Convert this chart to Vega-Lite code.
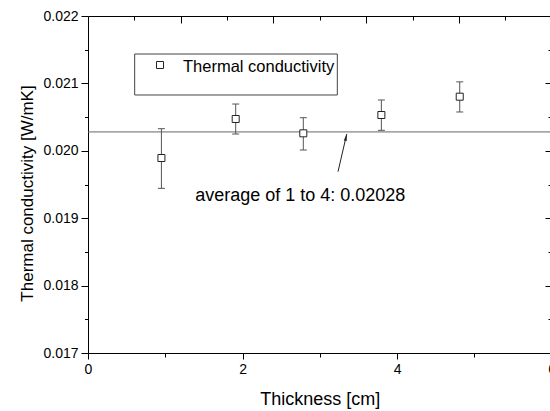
{
  "$schema": "https://vega.github.io/schema/vega-lite/v6.json",
  "width": 462,
  "height": 337,
  "autosize": {"type": "none"},
  "padding": {"left": 88, "top": 16, "right": 0, "bottom": 58},
  "background": "white",
  "config": {
    "view": {"stroke": null},
    "font": "Liberation Sans",
    "axis": {
      "grid": false,
      "domainColor": "#000",
      "tickColor": "#000",
      "labelColor": "#000",
      "titleColor": "#000",
      "labelFont": "Liberation Sans",
      "titleFont": "Liberation Sans",
      "titleFontWeight": "normal",
      "labelFontSize": 14,
      "domainWidth": 1,
      "tickWidth": 1
    }
  },
  "data": {
    "values": [
      {"thickness": 0.950, "k": 0.019893, "lo": 0.019443, "hi": 0.020328, "series": "Thermal conductivity"},
      {"thickness": 1.911, "k": 0.020472, "lo": 0.020249, "hi": 0.020694, "series": "Thermal conductivity"},
      {"thickness": 2.786, "k": 0.020259, "lo": 0.020012, "hi": 0.020491, "series": "Thermal conductivity"},
      {"thickness": 3.796, "k": 0.020531, "lo": 0.020304, "hi": 0.020754, "series": "Thermal conductivity"},
      {"thickness": 4.810, "k": 0.020803, "lo": 0.020576, "hi": 0.021023, "series": "Thermal conductivity"}
    ]
  },
  "resolve": {"axis": {"x": "independent", "y": "independent"}},
  "layer": [
    {
      "data": {"values": [{"avg": 0.02028}]},
      "mark": {"type": "rule", "color": "#666", "strokeWidth": 1},
      "encoding": {"y": {"field": "avg", "type": "quantitative", "axis": null}}
    },
    {
      "mark": {"type": "rule", "color": "#555", "strokeWidth": 1},
      "encoding": {
        "x": {"field": "thickness", "type": "quantitative", "axis": null},
        "y": {"field": "lo", "type": "quantitative", "axis": null},
        "y2": {"field": "hi"}
      }
    },
    {
      "mark": {"type": "tick", "orient": "horizontal", "size": 7, "thickness": 1, "color": "#555", "opacity": 1},
      "encoding": {
        "x": {"field": "thickness", "type": "quantitative", "axis": null},
        "y": {"field": "lo", "type": "quantitative", "axis": null}
      }
    },
    {
      "mark": {"type": "tick", "orient": "horizontal", "size": 7, "thickness": 1, "color": "#555", "opacity": 1},
      "encoding": {
        "x": {"field": "thickness", "type": "quantitative", "axis": null},
        "y": {"field": "hi", "type": "quantitative", "axis": null}
      }
    },
    {
      "data": {"values": [{}]},
      "mark": {"type": "rect", "fill": "transparent", "stroke": "#444", "strokeWidth": 1},
      "encoding": {
        "x": {"datum": 0.604, "type": "quantitative", "axis": null},
        "x2": {"datum": 3.226},
        "y": {"datum": 0.021436, "type": "quantitative", "axis": null},
        "y2": {"datum": 0.020828}
      }
    },
    {
      "data": {"values": [{"series": "Thermal conductivity"}]},
      "mark": {"type": "point", "shape": "square", "fill": "white", "stroke": "#222", "strokeWidth": 1, "size": 49, "opacity": 1},
      "encoding": {
        "x": {"datum": 0.932, "type": "quantitative", "axis": null},
        "y": {"datum": 0.021273, "type": "quantitative", "axis": null}
      }
    },
    {
      "data": {"values": [{"series": "Thermal conductivity"}]},
      "mark": {"type": "text", "align": "left", "baseline": "alphabetic", "font": "Liberation Sans", "fontSize": 16.5, "color": "#000"},
      "encoding": {
        "x": {"datum": 1.229, "type": "quantitative", "axis": null},
        "y": {"datum": 0.021174, "type": "quantitative", "axis": null},
        "text": {"field": "series"}
      }
    },
    {
      "mark": {"type": "point", "shape": "square", "fill": "white", "stroke": "#222", "strokeWidth": 1, "size": 49, "opacity": 1},
      "encoding": {
        "x": {
          "field": "thickness", "type": "quantitative",
          "scale": {"domain": [0, 6], "range": [0, 463.7], "nice": false, "zero": false},
          "axis": {"orient": "bottom", "values": [0, 2, 4, 6], "format": "d", "tickSize": 6, "labelPadding": 3,
                   "labelFlush": false, "labelOverlap": false,
                   "title": "Thickness [cm]", "titleFontSize": 18, "titlePadding": 14}
        },
        "y": {
          "field": "k", "type": "quantitative",
          "scale": {"domain": [0.017, 0.022], "nice": false, "zero": false},
          "axis": {"orient": "left", "values": [0.017, 0.018, 0.019, 0.020, 0.021, 0.022], "format": ".3f",
                   "tickSize": 7, "labelPadding": 3, "labelFlush": false, "labelOverlap": false,
                   "title": "Thermal conductivity [W/mK]", "titleFontSize": 17, "titlePadding": 6, "titleY": 177}
        }
      }
    },
    {
      "mark": {"type": "point", "opacity": 0},
      "encoding": {
        "x": {"field": "thickness", "type": "quantitative",
              "axis": {"orient": "bottom", "values": [1, 3, 5], "labels": false, "tickSize": 4, "domain": false, "title": null}},
        "y": {"field": "k", "type": "quantitative",
              "axis": {"orient": "left", "values": [0.0175, 0.0185, 0.0195, 0.0205, 0.0215], "labels": false, "tickSize": 3.5, "domain": false, "title": null}}
      }
    },
    {
      "mark": {"type": "point", "opacity": 0},
      "encoding": {
        "x": {"field": "thickness", "type": "quantitative",
              "axis": {"orient": "top", "values": [1.2, 2.4, 3.6, 4.8, 6.0], "labels": false, "tickSize": -7, "title": null}},
        "y": {"field": "k", "type": "quantitative",
              "axis": {"orient": "right", "values": [0.017, 0.018, 0.019, 0.020, 0.021, 0.022], "labels": false, "tickSize": -7, "domain": false, "offset": 2, "title": null}}
      }
    },
    {
      "mark": {"type": "point", "opacity": 0},
      "encoding": {
        "x": {"field": "thickness", "type": "quantitative",
              "axis": {"orient": "top", "values": [0.6, 1.8, 3.0, 4.2, 5.4], "labels": false, "tickSize": -4, "domain": false, "title": null}},
        "y": {"field": "k", "type": "quantitative",
              "axis": {"orient": "right", "values": [0.0175, 0.0185, 0.0195, 0.0205, 0.0215], "labels": false, "tickSize": -4, "domain": false, "offset": 2, "title": null}}
      }
    },
    {
      "data": {"values": [{"label": "average of 1 to 4: 0.02028"}]},
      "mark": {"type": "text", "align": "left", "baseline": "alphabetic", "font": "Liberation Sans", "fontSize": 18, "color": "#000"},
      "encoding": {
        "x": {"datum": 1.387, "type": "quantitative", "axis": null},
        "y": {"datum": 0.01925, "type": "quantitative", "axis": null},
        "text": {"field": "label"}
      }
    },
    {
      "data": {"values": [{}]},
      "mark": {"type": "rule", "color": "#222", "strokeWidth": 1},
      "encoding": {
        "x": {"datum": 3.235, "type": "quantitative", "axis": null},
        "y": {"datum": 0.01969, "type": "quantitative", "axis": null},
        "x2": {"datum": 3.348},
        "y2": {"datum": 0.02025}
      }
    },
    {
      "data": {"values": [{}]},
      "mark": {"type": "point", "shape": "M0,0L0.22,1L-0.22,1Z", "size": 196, "angle": 12.3, "filled": true, "color": "#222", "opacity": 1, "strokeWidth": 0},
      "encoding": {
        "x": {"datum": 3.348, "type": "quantitative", "axis": null},
        "y": {"datum": 0.02025, "type": "quantitative", "axis": null}
      }
    }
  ]
}
